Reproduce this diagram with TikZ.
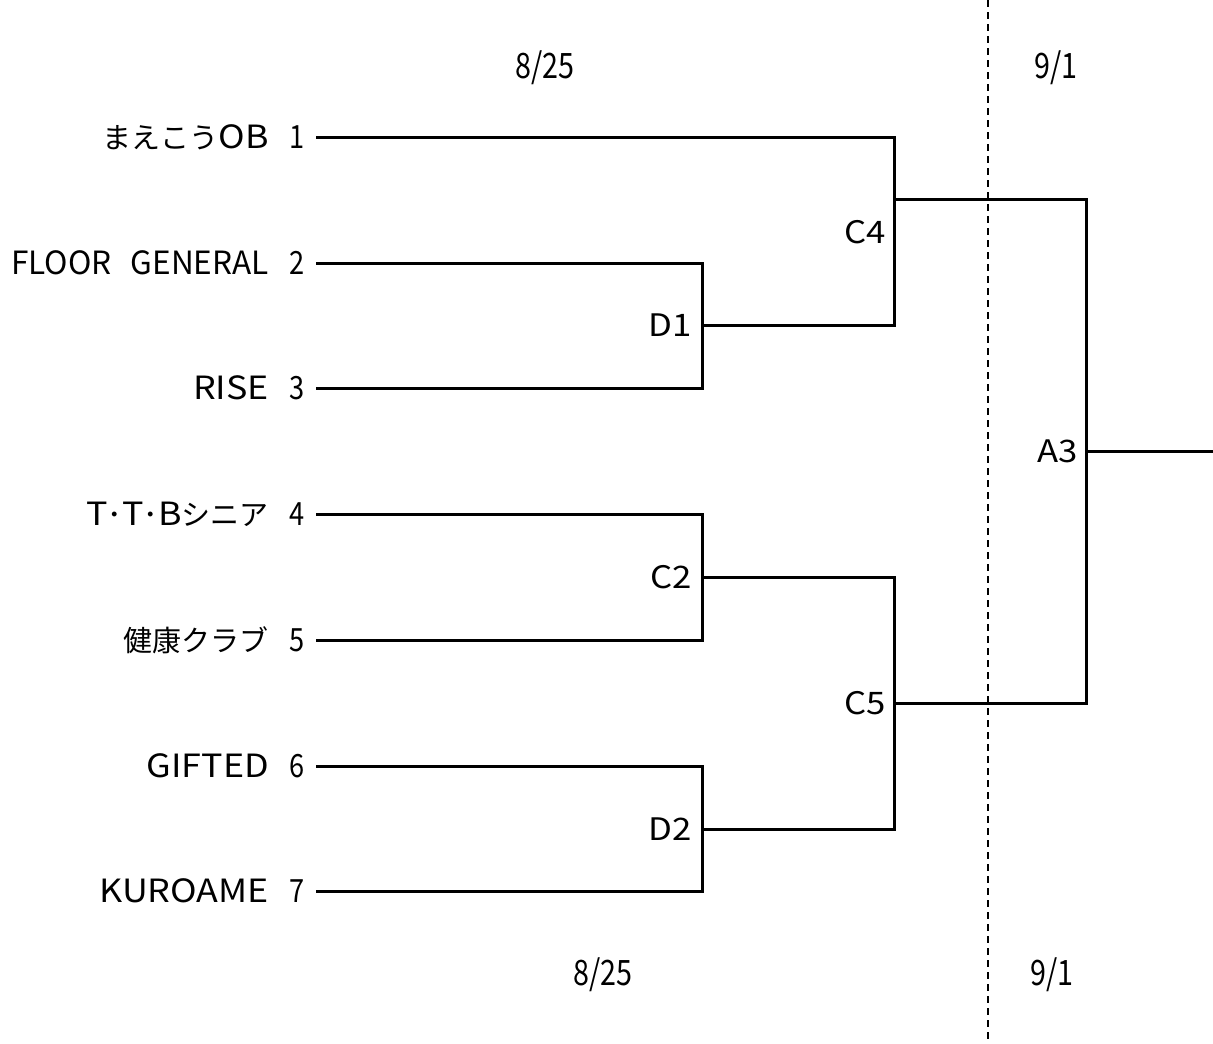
\documentclass[tikz,border=0pt]{standalone}
\usepackage{fontspec}
\setmainfont{Noto Sans CJK JP}
\newfontfamily\widefont[FakeStretch=1.12]{Noto Sans CJK JP}
\newfontfamily\narrowfont[FakeStretch=0.82]{Noto Sans CJK JP}
\newfontfamily\seedfont[FakeStretch=0.85]{Noto Sans CJK JP}
\newfontfamily\jpfont{Noto Sans CJK JP}
\newcommand{\jp}[1]{{\jpfont\fontsize{29bp}{31bp}\selectfont #1}}
\begin{document}
\begin{tikzpicture}[x=1bp,y=-1bp,
  wire/.style={line width=3bp, line join=miter, black},
  sep/.style={line width=1.5bp, dash pattern=on 7bp off 5bp, black},
  teamname/.style={anchor=east, inner sep=0pt, font=\widefont\fontsize{32bp}{34bp}\selectfont},
  seed/.style={anchor=center, inner sep=0pt, font=\seedfont\fontsize{32bp}{34bp}\selectfont},
  matchlbl/.style={anchor=east, inner sep=0pt, font=\widefont\fontsize{31bp}{33bp}\selectfont},
  datelbl/.style={anchor=center, inner sep=0pt, font=\narrowfont\fontsize{35bp}{37bp}\selectfont}]
\useasboundingbox (0,0) rectangle (1213,1044);
% separator
\coordinate (sepTop) at (988,0);
\coordinate (sepBot) at (988,1044);
\draw[sep] (sepTop) -- (sepBot);
% dates
\node[datelbl] (d1) at (545,68) {8/25};
\node[datelbl] (d2) at (1056,68) {9/1};
\node[datelbl] (d3) at (603,975) {8/25};
\node[datelbl] (d4) at (1052,975) {9/1};
% teams
\node[teamname] (t1) at (269,137) {\jp{まえこう}OB};
\node[teamname] (t2) at (269,263) {\scalebox{0.88}[1]{FLOOR\hspace{22bp}GENERAL}};
\node[teamname] (t3) at (269,388) {RISE};
\node[teamname] (t4) at (269,514) {T\jp{･}T\jp{･}B\jp{シニア}};
\node[teamname] (t5) at (269,640) {\jp{健康クラブ}};
\node[teamname] (t6) at (269,766) {GIFTED};
\node[teamname] (t7) at (269,891) {KUROAME};
\foreach \i/\y in {1/137,2/263,3/388,4/514,5/640,6/766,7/891}{
  \node[seed] (n\i) at (297,\y) {\i};
  \coordinate (s\i) at (316,\y);
}
% junctions
\coordinate (D1) at (702,325);
\coordinate (C2) at (702,577);
\coordinate (D2) at (702,829);
\coordinate (C4) at (894,199);
\coordinate (C5) at (894,703);
\coordinate (A3) at (1086,451);
\coordinate (win) at (1213,451);
% brackets
\draw[wire] (s2) -| (D1) |- (s3);
\draw[wire] (s4) -| (C2) |- (s5);
\draw[wire] (s6) -| (D2) |- (s7);
\draw[wire] (s1) -| (C4) |- (D1);
\draw[wire] (C2) -| (C5) |- (D2);
\draw[wire] (C4) -| (A3) |- (C5);
\draw[wire] (A3) -- (win);
% match labels
\node[matchlbl] (lD1) at (692,325) {D1};
\node[matchlbl] (lC2) at (692,577) {C2};
\node[matchlbl] (lD2) at (692,829) {D2};
\node[matchlbl] (lC4) at (886,232) {C4};
\node[matchlbl] (lC5) at (886,703) {C5};
\node[matchlbl] (lA3) at (1078,451) {A3};
\end{tikzpicture}
\end{document}
